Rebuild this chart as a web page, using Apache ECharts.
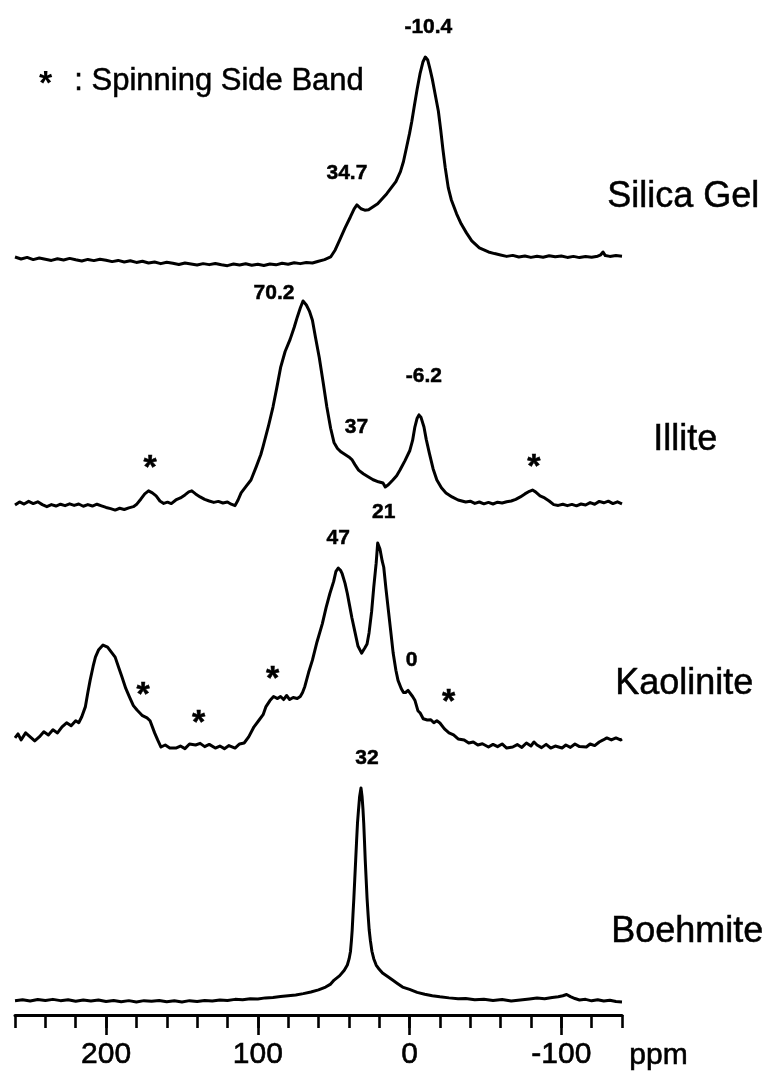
<!DOCTYPE html>
<html>
<head>
<meta charset="utf-8">
<script src="https://cdn.jsdelivr.net/npm/echarts@6/dist/echarts.min.js"></script>
<style>
  html, body { margin: 0; padding: 0; background: #fff; }
  #chart { width: 762px; height: 1071px; }
</style>
</head>
<body>
<div id="chart"></div>
<script>
// 27Al MAS NMR spectra: [chemical shift (ppm), relative intensity]
const silicaGel = [
  [260,0.5],[256,-0.5],[252,0.3],[248,-0.8],[244,0],[240,-0.6],[236,-1.2],[232,-0.4],[228,-1],[224,-0.2],
  [220,-0.9],[216,-1.5],[212,-0.7],[208,-1.3],[204,-0.6],[200,-1.1],[196,-1.8],[192,-1.2],[188,-2],[184,-1.4],
  [180,-2.2],[176,-1.6],[172,-2.5],[168,-2],[164,-2.8],[160,-2.1],[156,-2.6],[152,-3.2],[148,-2.5],[144,-3],
  [140,-3.5],[136,-2.8],[132,-3.3],[128,-2.7],[124,-3.4],[120,-3.8],[116,-3],[112,-3.5],[108,-2.9],[104,-3.6],
  [100,-3.1],[96,-3.7],[92,-3],[88,-3.4],[84,-2.6],[80,-3.1],[76,-2.4],[72,-2.8],[68,-2.2],[64,-2.5],
  [60,-1.6],[56,-0.8],[52,0.5],[49,4],[46,9],[42.5,15],[39,20.4],[36.5,24.5],[34.7,26.4],[32,24.5],
  [29.5,23.8],[27,24],[24,25.5],[21,27],[18,29.5],[15,32],[12,35],[9,38],[6,43],[4,48],
  [2,55],[0,62],[-1.5,68],[-3,75],[-5,84],[-7,92],[-8.8,97.5],[-10.4,100],[-12,98.5],[-13.5,94],
  [-15,89],[-17,81],[-19,73],[-20.5,64],[-22,54],[-23.5,45],[-25.5,35],[-27.5,29],[-29.5,25],[-31,22],
  [-34,17],[-37.5,12.5],[-41,8.5],[-46,5],[-52,3],[-56,2.2],[-60,1.5],[-64,0.8],[-68,1.3],[-72,0.5],
  [-76,1],[-80,0.3],[-84,0.9],[-88,0.4],[-92,1.1],[-96,0.6],[-100,1],[-104,0.3],[-108,0.8],[-112,0.2],
  [-116,0.7],[-120,0.4],[-124,0.9],[-126,1.6],[-127.5,3],[-129,1.2],[-132,0.8],[-136,1.2],[-140,0.9]
];

const illite = [
  [260,-1],[257,0.5],[254,-0.5],[251,0.8],[248,-0.3],[245,0.6],[242,-0.8],[239,-1.8],[236,-0.8],[233,-1.5],
  [230,-0.6],[227,-1.3],[224,-0.4],[221,-1.2],[218,-0.5],[215,-1.6],[212,-0.8],[209,-1.5],[206,-0.6],[203,-1.4],
  [200,-2.2],[197,-2.8],[194,-3.5],[191,-2.6],[188,-3.2],[185,-2.4],[182,-1.8],[180,-0.8],[177,2],[174.5,4.5],
  [172,6],[169.5,5],[167,3.5],[164.5,1],[162,-0.2],[159.5,0.4],[157,-0.3],[154,1.5],[151,2.5],[148,4],
  [145.5,5.5],[143.5,6],[141,4.5],[138,3],[135,1.8],[132,1],[129,0.3],[126,0.8],[123,0],[120,0.5],
  [117.5,-0.6],[115,-1.3],[113,1.5],[111,5],[108,8],[104.5,11.4],[101,18],[98,24],[96.5,28],[93,38],
  [90,47.5],[87.5,57],[85,67],[82,75],[78.7,81],[76,87],[74,92],[72,96.5],[70.2,100],[68,98],
  [66,95],[64,90.5],[62,82],[59.5,72],[57,60],[54.5,47.5],[52,37],[49.8,30],[47.5,27],[45,25.2],
  [42.5,24],[40,22.8],[38,21.5],[36,19],[33.6,16.3],[30.5,14.5],[27.3,13],[24,11.5],[20.5,10.5],[17.5,9.9],
  [16,7.9],[14,9],[11,11.4],[8.5,13.5],[6.3,16.3],[3,21],[-0.2,26],[-2,31],[-3.5,37.6],[-5,42],
  [-6.2,43.6],[-7.5,42.5],[-9.5,37.6],[-11,31.5],[-13,24.8],[-15.5,17],[-18,11.4],[-21,7.5],[-24,5],[-28,3],
  [-32,1.5],[-37,0.5],[-40,0.9],[-43,-0.2],[-46,0.5],[-49,-0.4],[-52,0.3],[-55,-0.5],[-58,0.4],[-61,0],
  [-64,0.6],[-67,1],[-70,1.8],[-73,3],[-76,4.5],[-79,5.8],[-81,6.4],[-83,5.5],[-86,3.5],[-89,2.5],
  [-92,1],[-95,-0.8],[-98,-1.2],[-101,-0.6],[-104,-1.3],[-107,-0.7],[-110,-1.4],[-113,-0.5],[-116,-1],[-119,0.2],
  [-122,-0.6],[-125,0.8],[-128,0.1],[-131,0.9],[-134,-0.3],[-137,0.6],[-140,-0.4]
];

const kaolinite = [
  [260,3.5],[258,5.5],[256,2.5],[253,6],[250,4],[247,2],[244,4],[241,6.5],[238,5],[235,7.5],
  [232,6],[229,9],[226,11],[223,9.5],[220,12],[218,11],[216,14],[213.6,19],[212,26],[210.5,32],
  [208.5,39],[207,43.5],[205,47],[202,49.5],[199,48.5],[196.5,46],[194,43.5],[191.5,38],[189.5,33.7],[187,28],
  [184.6,23.8],[182,19.5],[179.6,17.3],[176,14.5],[173,13.4],[171,12],[168,6],[166,2.5],[163.8,-1],[161,0],
  [158,-1.5],[154,-1.5],[151,-0.5],[148,-1.8],[145,0.5],[141,0],[138,0.8],[135,-0.8],[132,0.3],[128,-1.5],
  [125,-0.5],[122,-1.8],[119,-0.3],[115,-1.5],[112,0.5],[109,1],[106,4],[102.5,9],[99,12.5],[96.5,15],
  [94.6,19],[92,22],[89.6,24],[87,23],[85,24],[83,22.5],[81,24.5],[79,22.5],[76.7,23.5],[74,23],
  [72,24],[70.5,26],[69,29],[66.5,36],[64,42],[61,51],[57.5,60],[55,68],[52.5,75],[50,81],
  [48.5,86],[47,87.6],[45.5,86.5],[44.5,85],[42.5,80],[41,75],[39.5,69],[38,63],[36,56],[34,49],
  [31.6,45.5],[29.5,48],[28,50],[26.7,55.5],[25,66],[23.6,78],[22,90],[21,100],[19.5,97],[18,91],
  [17,88],[15.5,77],[14,67],[12.5,57],[10.8,45.5],[9,37],[7.6,32],[5.5,28],[4,26],[2.6,26],
  [1,27],[-0.3,27],[-2,24],[-3.6,22],[-5.5,17],[-7,15.8],[-9,13],[-11.7,12.4],[-14,12.5],[-16,11],
  [-18,12],[-20,10.9],[-23,8],[-26,6],[-29,5],[-32,3],[-36,2.5],[-39,1],[-42,1.5],[-45,0],
  [-48,0.6],[-52,-1],[-55,0.3],[-58,-0.8],[-61,0.5],[-64,-1.5],[-68,-1],[-71,0.2],[-74,-1.2],[-77,1],
  [-80,-0.5],[-82,1.5],[-84,0],[-87,-1.3],[-90,0.3],[-93,-1.5],[-96,-0.5],[-100.5,-1.5],[-103,0],[-106,-1.2],
  [-109,0.5],[-112,-0.8],[-116.5,-1],[-119,0.5],[-122,-0.3],[-125,1.5],[-127.6,2.5],[-130,3.5],[-133,2.5],[-136,3.5],
  [-139,2.5],[-140,3]
];

const boehmite = [
  [260,-0.3],[255,0.1],[250,-0.5],[245,0.2],[240,-0.2],[235,0.3],[230,-0.3],[225,0.1],[220,-0.6],[215,0],
  [210,-0.5],[205,0],[200,-0.7],[195,-0.2],[190,-0.8],[185,-0.3],[180,-0.9],[175,-0.3],[170,-0.6],[165,-0.2],
  [160,-0.8],[155,-0.4],[150,-0.9],[145,-0.3],[140,-0.7],[135,-0.2],[130,-0.5],[125,0],[120,-0.2],[115,0.3],
  [110,0.1],[105,0.6],[100,0.5],[95,1],[90,1.2],[85,1.6],[80,2],[75,2.4],[70,3],[65,3.8],
  [60,4.8],[55.3,6.1],[52,7.5],[49.7,9.4],[46,11.5],[43,14],[41,16.5],[39.8,19.5],[38.9,23],[38.3,28],
  [37.8,33],[37.3,40],[36.7,48],[36.1,57],[35.5,66],[34.9,75],[34.3,83.5],[33.6,90],[32.9,96],[32,100],
  [31.3,96],[30.7,90],[30.2,83.5],[29.7,75],[29.2,66],[28.6,57],[28,48],[27.3,40],[26.6,33],[25.8,28],
  [24.8,23],[23.6,19.5],[22,16.5],[20,14.5],[17.8,12.7],[14,10.8],[11.2,9.4],[8,7.8],[4.6,6.1],[0,5],
  [-5,3.6],[-10,2.7],[-15,2],[-20,1.5],[-26,1],[-32,0.6],[-37,0.7],[-43,0.1],[-49,0.3],[-55,-0.2],
  [-61,0.2],[-67,-0.5],[-73,0],[-79,0.5],[-84,0.9],[-89,0.6],[-94,1.2],[-98,1.5],[-101,2],[-103.5,2.6],
  [-106,1.6],[-109,0.7],[-112,0],[-116,0.3],[-120,-0.4],[-124,0.1],[-128,-0.5],[-132,-0.1],[-136,-0.7],[-140,-0.9]
];

// Peak assignments: [ppm, label]
const silicaPeaks = [[-10.4, '-10.4'], [34.7, '34.7']];
const illitePeaks = [[70.2, '70.2'], [37, '37'], [-6.2, '-6.2']];
const kaolinitePeaks = [[47, '47'], [21, '21'], [0, '0']];
const boehmitePeaks = [[32, '32']];

// Spinning side bands (ppm)
const illiteSidebands = [171, -82];
const kaoliniteSidebands = [175.6, 139, 90.2, -25.7];

const sampleNames = ['Silica Gel', 'Illite', 'Kaolinite', 'Boehmite'];
const axisMajorTicks = [200, 100, 0, -100];
const axisUnit = 'ppm';
const legendText = ': Spinning Side Band';

// ---- layout / styling ----
const FONT = '"Liberation Sans", Arial, Helvetica, sans-serif';
const PPM_MIN = -140, PPM_MAX = 260;
const LEFT = 15, RIGHT = 140;
// vertical placement of each trace: y of main peak, y of baseline, grid bottom
const bands = [
  { peakY: 57,  baseY: 258,  bottomY: 280 },
  { peakY: 301, baseY: 503,  bottomY: 525 },
  { peakY: 543, baseY: 745,  bottomY: 767 },
  { peakY: 788, baseY: 1000, bottomY: 1015 }
];
const traces = [silicaGel, illite, kaolinite, boehmite];
const peakSets = [silicaPeaks, illitePeaks, kaolinitePeaks, boehmitePeaks];
const peakOffsets = [
  [[3, -30], [-10, -32]],
  [[-29, -8], [3, -35], [5, -39]],
  [[0, -30], [6, -31], [2, -30]],
  [[6, -30]]
];
const sidebandSets = [[], illiteSidebands, kaoliniteSidebands, []];
const sidebandOffsets = [[], [[0, -23], [0, -23]], [[0, -20], [0, -20], [0, -18], [0, -30]], []];
const nameTop = [[607, 179], [653, 422], [615, 666], [611, 914]];

function curveAt(data, ppm) {
  for (let i = 0; i < data.length - 1; i++) {
    const a = data[i], b = data[i + 1];
    if (a[0] >= ppm && b[0] <= ppm) {
      const t = (a[0] === b[0]) ? 0 : (a[0] - ppm) / (a[0] - b[0]);
      return a[1] + t * (b[1] - a[1]);
    }
  }
  return 0;
}

const grids = [], xAxes = [], yAxes = [], series = [];
bands.forEach((b, i) => {
  grids.push({ left: LEFT, right: RIGHT, top: b.peakY, height: b.bottomY - b.peakY });
  const unit = (b.baseY - b.peakY) / 100;
  yAxes.push({ type: 'value', gridIndex: i, min: -(b.bottomY - b.baseY) / unit, max: 100, show: false });
  xAxes.push({ type: 'value', gridIndex: i, min: PPM_MIN, max: PPM_MAX, inverse: true, show: false });
});

// visible ppm axis under the last trace: minor ticks every 20 ppm
xAxes[3] = {
  type: 'value', gridIndex: 3, min: PPM_MIN, max: PPM_MAX, inverse: true, interval: 20,
  position: 'bottom',
  axisLine: { show: true, onZero: false, lineStyle: { color: '#000', width: 3 } },
  axisTick: { show: true, length: 13, lineStyle: { color: '#000', width: 2.6 } },
  axisLabel: { show: false },
  splitLine: { show: false }
};
// major ticks and labels every 100 ppm
xAxes.push({
  type: 'value', gridIndex: 3, min: PPM_MIN, max: PPM_MAX, inverse: true,
  position: 'bottom', offset: 0,
  axisLine: { show: false, onZero: false },
  axisTick: { show: true, customValues: axisMajorTicks, length: 20, lineStyle: { color: '#000', width: 2.6 } },
  axisLabel: { show: true, customValues: axisMajorTicks, color: '#000', fontFamily: FONT, fontSize: 30, margin: 25,
               textBorderColor: '#000', textBorderWidth: 0.6 },
  splitLine: { show: false }
});

const textInk = { color: '#000', opacity: 1, fontFamily: FONT, textBorderColor: '#000', textBorderWidth: 0.5 };

traces.forEach((data, i) => {
  series.push({
    type: 'line', xAxisIndex: i, yAxisIndex: i, data: data,
    showSymbol: false, symbol: 'none', clip: false, smooth: false, silent: true,
    lineStyle: { color: '#000', width: 3, join: 'round' }
  });
  series.push({
    type: 'scatter', xAxisIndex: i, yAxisIndex: i, symbolSize: 0, silent: true,
    itemStyle: { opacity: 1 },
    data: peakSets[i].map((p, k) => ({
      value: [p[0], curveAt(data, p[0])],
      label: Object.assign({ show: true, position: 'inside', formatter: p[1], offset: peakOffsets[i][k],
                             fontSize: 21, fontWeight: 'bold' }, textInk)
    }))
  });
  if (sidebandSets[i].length) {
    series.push({
      type: 'scatter', xAxisIndex: i, yAxisIndex: i, symbolSize: 0, silent: true,
      itemStyle: { opacity: 1 },
      data: sidebandSets[i].map((s, k) => ({
        value: [s, curveAt(data, s)],
        label: Object.assign({ show: true, position: 'inside', formatter: '*', offset: sidebandOffsets[i][k],
                               fontSize: 34, fontWeight: 'bold' }, textInk)
      }))
    });
  }
});

const graphic = sampleNames.map((name, i) => ({
  type: 'text', left: nameTop[i][0], top: nameTop[i][1],
  style: { text: name, font: '36px ' + FONT, fill: '#000', stroke: '#000', lineWidth: 0.5 }
}));
graphic.push({ type: 'text', left: 39, top: 68, style: { text: '*', font: 'bold 34px ' + FONT, fill: '#000' } });
graphic.push({ type: 'text', left: 74, top: 66, style: { text: legendText, font: '31px ' + FONT, fill: '#000', stroke: '#000', lineWidth: 0.5 } });
graphic.push({ type: 'text', left: 629, top: 1040, style: { text: axisUnit, font: '30px ' + FONT, fill: '#000', stroke: '#000', lineWidth: 0.6 } });

const chart = echarts.init(document.getElementById('chart'), null, { renderer: 'canvas' });
chart.setOption({
  animation: false,
  backgroundColor: '#fff',
  grid: grids, xAxis: xAxes, yAxis: yAxes, series: series, graphic: graphic
});
</script>
</body>
</html>
